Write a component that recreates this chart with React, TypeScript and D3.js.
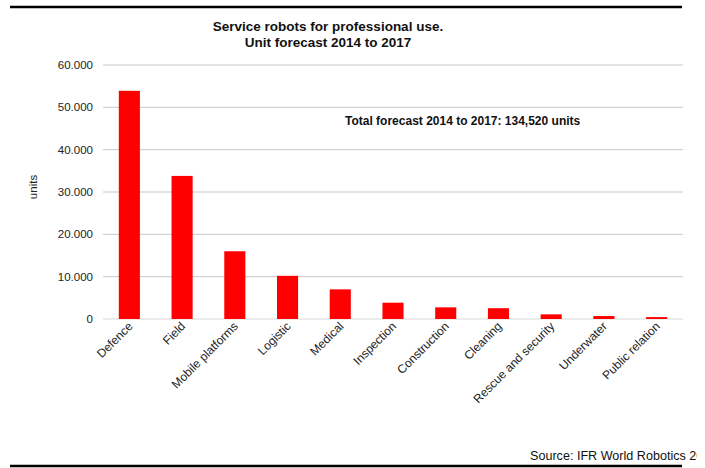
import React from "react";
import * as d3 from "d3";

const categories = [
  "Defence",
  "Field",
  "Mobile platforms",
  "Logistic",
  "Medical",
  "Inspection",
  "Construction",
  "Cleaning",
  "Rescue and security",
  "Underwater",
  "Public relation",
];
const values = [53900, 33800, 16000, 10200, 7000, 3850, 2750, 2550, 1100, 700, 450];
const yTicks = [0, 10000, 20000, 30000, 40000, 50000, 60000];
const tickLabels = ["0", "10.000", "20.000", "30.000", "40.000", "50.000", "60.000"];

const W = 705;
const H = 468;
const font = "'Liberation Sans', Arial, sans-serif";

export default function App() {
  const x = d3.scaleBand<string>().domain(categories).range([103, 683]).paddingInner(0.6).paddingOuter(0.3);
  const y = d3.scaleLinear().domain([0, 60000]).range([319, 65]);
  return (
    <svg width={W} height={H} style={{ position: "absolute", left: 0, top: 0 }} fontFamily={font}>
      <defs>
        <clipPath id="clip">
          <rect x={0} y={0} width={697} height={H} />
        </clipPath>
      </defs>
      <rect x={0} y={0} width={W} height={H} fill="#fff" />
      <line x1={10} x2={682} y1={7} y2={7} stroke="#000" strokeWidth={2.5} />
      <line x1={10} x2={682} y1={466} y2={466} stroke="#000" strokeWidth={2.5} />
      <text x={328} y={31} textAnchor="middle" fontSize={13.5} fontWeight="bold" fill="#111">
        Service robots for professional use.
      </text>
      <text x={328} y={46.5} textAnchor="middle" fontSize={13.5} fontWeight="bold" fill="#111">
        Unit forecast 2014 to 2017
      </text>
      {yTicks.map((t, i) => (
        <g key={t}>
          <line x1={103} x2={683} y1={y(t)} y2={y(t)} stroke={t === 0 ? "#d9d9d9" : "#c8c8c8"} strokeWidth={1} />
          <text x={93} y={y(t) + 4} textAnchor="end" fontSize={11.5} fill="#222">
            {tickLabels[i]}
          </text>
        </g>
      ))}
      <text transform={`translate(37,187) rotate(-90)`} textAnchor="middle" fontSize={11.5} fill="#222">
        units
      </text>
      {categories.map((c, i) => (
        <rect key={c} x={x(c)} y={y(values[i])} width={x.bandwidth()} height={y(0) - y(values[i])} fill="#ff0000" />
      ))}
      {categories.map((c) => {
        const cx = (x(c) as number) + x.bandwidth() / 2;
        return (
          <text
            key={c}
            transform={`translate(${cx + 4},${327}) rotate(-45)`}
            textAnchor="end"
            fontSize={12}
            fill="#222"
          >
            {c}
          </text>
        );
      })}
      <text x={345} y={125} fontSize={12} fontWeight="bold" fill="#111">
        Total forecast 2014 to 2017: 134,520 units
      </text>
      <g clipPath="url(#clip)">
        <text x={530} y={460} fontSize={12.6} fill="#111">
          Source: IFR World Robotics 2014
        </text>
      </g>
    </svg>
  );
}
